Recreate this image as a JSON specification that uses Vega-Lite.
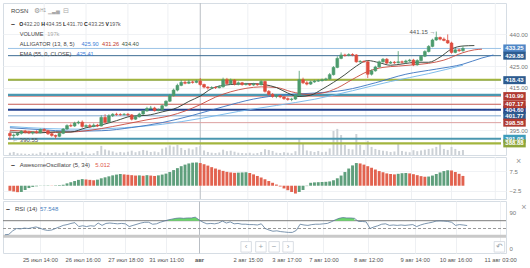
{
  "$schema": "https://vega.github.io/schema/vega-lite/v6.json",
  "padding": {"left": 1, "top": 2, "right": 0, "bottom": 0},
  "background": "white",
  "spacing": 2,
  "bounds": "flush",
  "config": {
    "view": {"stroke": "#d6dde4"},
    "axis": {"labelFont": "Liberation Sans", "labelFontSize": 6, "labelColor": "#777", "domain": false, "ticks": false},
    "text": {"font": "Liberation Sans"}
  },
  "datasets": {
    "ticks": [{"t":9},{"t":20},{"t":31},{"t":41.5},{"t":50},{"t":62.5},{"t":72.5},{"t":82},{"t":93.5},{"t":105.5},{"t":116},{"t":127.5}],
    "candles": [
      {"i":0,"o":393.5,"h":394.5,"l":390.55,"c":392.5,"v":90,"ao":-2.6,"aoUp":false,"rsi":34},
      {"i":1,"o":392.5,"h":393.5,"l":391.2,"c":392.8,"v":120,"ao":-3.0,"aoUp":false,"rsi":35},
      {"i":2,"o":392.8,"h":394.0,"l":392.3,"c":393.6,"v":70,"ao":-3.3,"aoUp":false,"rsi":44},
      {"i":3,"o":393.6,"h":395.0,"l":393.0,"c":394.6,"v":60,"ao":-3.2,"aoUp":true,"rsi":50},
      {"i":4,"o":394.6,"h":395.2,"l":393.5,"c":394.0,"v":50,"ao":-2.2,"aoUp":true,"rsi":49},
      {"i":5,"o":394.0,"h":394.8,"l":393.2,"c":393.8,"v":40,"ao":-1.2,"aoUp":true,"rsi":51},
      {"i":6,"o":393.8,"h":394.5,"l":393.0,"c":394.2,"v":60,"ao":-0.6,"aoUp":true,"rsi":50},
      {"i":7,"o":394.2,"h":395.0,"l":393.5,"c":393.9,"v":50,"ao":-0.3,"aoUp":true,"rsi":52},
      {"i":8,"o":393.9,"h":395.8,"l":393.6,"c":395.4,"v":110,"ao":-0.1,"aoUp":true,"rsi":54},
      {"i":9,"o":395.4,"h":396.0,"l":394.5,"c":394.8,"v":70,"ao":0.1,"aoUp":true,"rsi":51},
      {"i":10,"o":394.8,"h":395.2,"l":392.8,"c":393.4,"v":90,"ao":0.15,"aoUp":true,"rsi":47},
      {"i":11,"o":393.4,"h":393.8,"l":392.0,"c":392.6,"v":80,"ao":0.1,"aoUp":false,"rsi":45},
      {"i":12,"o":392.6,"h":393.0,"l":391.0,"c":392.2,"v":100,"ao":0.2,"aoUp":true,"rsi":46},
      {"i":13,"o":392.2,"h":394.0,"l":391.8,"c":393.6,"v":70,"ao":0.3,"aoUp":true,"rsi":50},
      {"i":14,"o":393.6,"h":396.0,"l":393.2,"c":395.6,"v":90,"ao":0.5,"aoUp":true,"rsi":54},
      {"i":15,"o":395.6,"h":397.8,"l":395.2,"c":397.2,"v":130,"ao":1.2,"aoUp":true,"rsi":58},
      {"i":16,"o":397.2,"h":398.2,"l":396.5,"c":397.0,"v":80,"ao":1.8,"aoUp":true,"rsi":60},
      {"i":17,"o":397.0,"h":399.0,"l":396.6,"c":398.4,"v":110,"ao":2.4,"aoUp":true,"rsi":63},
      {"i":18,"o":398.4,"h":399.5,"l":397.8,"c":398.8,"v":90,"ao":3.0,"aoUp":true,"rsi":65},
      {"i":19,"o":398.8,"h":399.6,"l":396.2,"c":396.8,"v":140,"ao":3.4,"aoUp":true,"rsi":55},
      {"i":20,"o":396.8,"h":397.8,"l":396.2,"c":397.2,"v":60,"ao":3.2,"aoUp":false,"rsi":57},
      {"i":21,"o":397.2,"h":398.0,"l":396.0,"c":396.8,"v":50,"ao":3.0,"aoUp":false,"rsi":55},
      {"i":22,"o":396.8,"h":398.2,"l":396.4,"c":397.4,"v":70,"ao":2.8,"aoUp":false,"rsi":57},
      {"i":23,"o":397.4,"h":398.0,"l":396.5,"c":397.0,"v":160,"ao":3.1,"aoUp":true,"rsi":56},
      {"i":24,"o":397.0,"h":402.0,"l":396.8,"c":401.0,"v":360,"ao":3.8,"aoUp":true,"rsi":64},
      {"i":25,"o":401.0,"h":402.5,"l":398.2,"c":398.8,"v":220,"ao":4.3,"aoUp":true,"rsi":58},
      {"i":26,"o":398.8,"h":402.5,"l":398.5,"c":401.8,"v":180,"ao":4.8,"aoUp":true,"rsi":63},
      {"i":27,"o":401.8,"h":403.0,"l":401.2,"c":402.5,"v":140,"ao":5.3,"aoUp":true,"rsi":64},
      {"i":28,"o":402.5,"h":403.2,"l":401.8,"c":402.4,"v":90,"ao":5.7,"aoUp":true,"rsi":63},
      {"i":29,"o":402.4,"h":403.0,"l":401.8,"c":402.3,"v":120,"ao":6.0,"aoUp":true,"rsi":62},
      {"i":30,"o":402.3,"h":403.0,"l":402.0,"c":402.5,"v":100,"ao":5.8,"aoUp":false,"rsi":63},
      {"i":31,"o":402.5,"h":403.1,"l":401.6,"c":402.2,"v":130,"ao":5.6,"aoUp":false,"rsi":62},
      {"i":32,"o":402.2,"h":402.6,"l":399.6,"c":400.2,"v":170,"ao":5.4,"aoUp":false,"rsi":55},
      {"i":33,"o":400.2,"h":401.8,"l":399.9,"c":401.3,"v":110,"ao":5.2,"aoUp":false,"rsi":58},
      {"i":34,"o":401.3,"h":403.2,"l":401.0,"c":402.6,"v":150,"ao":5.3,"aoUp":true,"rsi":61},
      {"i":35,"o":402.6,"h":404.5,"l":402.2,"c":404.0,"v":200,"ao":5.1,"aoUp":false,"rsi":64},
      {"i":36,"o":404.0,"h":406.0,"l":403.8,"c":405.2,"v":170,"ao":5.4,"aoUp":true,"rsi":66},
      {"i":37,"o":405.2,"h":406.4,"l":404.8,"c":405.4,"v":120,"ao":5.2,"aoUp":false,"rsi":66},
      {"i":38,"o":405.4,"h":406.0,"l":403.8,"c":404.2,"v":140,"ao":5.0,"aoUp":false,"rsi":61},
      {"i":39,"o":404.2,"h":405.2,"l":403.9,"c":404.6,"v":110,"ao":5.3,"aoUp":true,"rsi":62},
      {"i":40,"o":404.6,"h":407.0,"l":404.2,"c":406.5,"v":250,"ao":5.7,"aoUp":true,"rsi":66},
      {"i":41,"o":406.5,"h":409.0,"l":406.0,"c":408.6,"v":300,"ao":6.2,"aoUp":true,"rsi":69},
      {"i":42,"o":408.6,"h":412.0,"l":408.2,"c":411.2,"v":380,"ao":7.0,"aoUp":true,"rsi":72},
      {"i":43,"o":411.2,"h":414.5,"l":410.8,"c":413.8,"v":330,"ao":8.0,"aoUp":true,"rsi":74},
      {"i":44,"o":413.8,"h":416.8,"l":413.2,"c":416.0,"v":400,"ao":9.0,"aoUp":true,"rsi":76},
      {"i":45,"o":416.0,"h":418.5,"l":415.6,"c":417.4,"v":280,"ao":10.0,"aoUp":true,"rsi":77},
      {"i":46,"o":417.4,"h":418.3,"l":416.5,"c":417.0,"v":200,"ao":10.8,"aoUp":true,"rsi":76},
      {"i":47,"o":417.0,"h":418.6,"l":416.6,"c":417.6,"v":260,"ao":11.4,"aoUp":true,"rsi":77},
      {"i":48,"o":417.6,"h":418.2,"l":416.8,"c":417.4,"v":220,"ao":11.8,"aoUp":true,"rsi":77},
      {"i":49,"o":417.4,"h":418.6,"l":417.0,"c":418.0,"v":310,"ao":11.9,"aoUp":true,"rsi":79},
      {"i":50,"o":418.0,"h":419.4,"l":415.8,"c":416.4,"v":350,"ao":11.6,"aoUp":false,"rsi":72},
      {"i":51,"o":416.4,"h":416.8,"l":414.6,"c":415.2,"v":180,"ao":11.0,"aoUp":false,"rsi":66},
      {"i":52,"o":415.2,"h":415.6,"l":414.0,"c":414.8,"v":120,"ao":10.3,"aoUp":false,"rsi":62},
      {"i":53,"o":414.8,"h":415.6,"l":414.2,"c":415.0,"v":90,"ao":9.5,"aoUp":false,"rsi":63},
      {"i":54,"o":415.0,"h":415.5,"l":414.3,"c":414.9,"v":80,"ao":8.8,"aoUp":false,"rsi":62},
      {"i":55,"o":414.9,"h":416.0,"l":414.6,"c":415.3,"v":100,"ao":8.2,"aoUp":false,"rsi":64},
      {"i":56,"o":415.3,"h":419.6,"l":415.0,"c":418.6,"v":210,"ao":7.6,"aoUp":false,"rsi":69},
      {"i":57,"o":418.6,"h":419.5,"l":416.2,"c":416.8,"v":150,"ao":7.1,"aoUp":false,"rsi":64},
      {"i":58,"o":416.8,"h":419.2,"l":416.4,"c":418.4,"v":170,"ao":6.8,"aoUp":false,"rsi":67},
      {"i":59,"o":418.4,"h":418.9,"l":416.0,"c":416.6,"v":130,"ao":6.6,"aoUp":false,"rsi":62},
      {"i":60,"o":416.6,"h":417.8,"l":416.0,"c":417.2,"v":90,"ao":6.7,"aoUp":true,"rsi":63},
      {"i":61,"o":417.2,"h":417.6,"l":415.8,"c":416.4,"v":80,"ao":6.8,"aoUp":true,"rsi":61},
      {"i":62,"o":416.4,"h":417.2,"l":415.9,"c":416.6,"v":70,"ao":6.9,"aoUp":true,"rsi":61},
      {"i":63,"o":416.6,"h":417.0,"l":415.7,"c":416.2,"v":90,"ao":6.5,"aoUp":false,"rsi":60},
      {"i":64,"o":416.2,"h":417.2,"l":415.8,"c":416.6,"v":60,"ao":5.8,"aoUp":false,"rsi":60},
      {"i":65,"o":416.6,"h":417.0,"l":415.8,"c":416.3,"v":80,"ao":5.0,"aoUp":false,"rsi":59},
      {"i":66,"o":416.3,"h":418.4,"l":416.0,"c":417.8,"v":120,"ao":4.2,"aoUp":false,"rsi":62},
      {"i":67,"o":417.8,"h":418.2,"l":412.6,"c":413.2,"v":230,"ao":3.3,"aoUp":false,"rsi":50},
      {"i":68,"o":413.2,"h":413.8,"l":411.2,"c":411.8,"v":200,"ao":2.4,"aoUp":false,"rsi":46},
      {"i":69,"o":411.8,"h":412.4,"l":410.2,"c":410.8,"v":160,"ao":1.5,"aoUp":false,"rsi":43},
      {"i":70,"o":410.8,"h":411.8,"l":410.0,"c":411.2,"v":90,"ao":0.6,"aoUp":false,"rsi":44},
      {"i":71,"o":411.2,"h":411.6,"l":410.0,"c":410.6,"v":80,"ao":-0.4,"aoUp":false,"rsi":42},
      {"i":72,"o":410.6,"h":411.0,"l":409.2,"c":409.8,"v":110,"ao":-1.4,"aoUp":false,"rsi":41},
      {"i":73,"o":409.8,"h":410.4,"l":408.8,"c":409.4,"v":90,"ao":-2.3,"aoUp":false,"rsi":40},
      {"i":74,"o":409.4,"h":410.2,"l":408.6,"c":409.6,"v":70,"ao":-3.2,"aoUp":false,"rsi":40},
      {"i":75,"o":409.6,"h":412.0,"l":409.2,"c":411.4,"v":150,"ao":-4.0,"aoUp":false,"rsi":45},
      {"i":76,"o":411.4,"h":422.8,"l":411.0,"c":418.6,"v":640,"ao":-3.2,"aoUp":true,"rsi":61},
      {"i":77,"o":418.6,"h":419.6,"l":416.6,"c":417.2,"v":470,"ao":-2.2,"aoUp":true,"rsi":59},
      {"i":78,"o":417.2,"h":418.0,"l":416.0,"c":416.6,"v":180,"ao":-0.2,"aoUp":true,"rsi":58},
      {"i":79,"o":416.6,"h":418.2,"l":416.2,"c":417.6,"v":150,"ao":1.5,"aoUp":true,"rsi":60},
      {"i":80,"o":417.6,"h":418.6,"l":417.2,"c":418.0,"v":120,"ao":1.7,"aoUp":true,"rsi":61},
      {"i":81,"o":418.0,"h":418.8,"l":417.6,"c":418.2,"v":160,"ao":1.8,"aoUp":true,"rsi":61},
      {"i":82,"o":418.2,"h":419.2,"l":417.8,"c":418.6,"v":110,"ao":1.9,"aoUp":true,"rsi":62},
      {"i":83,"o":418.6,"h":419.6,"l":418.2,"c":419.0,"v":130,"ao":2.0,"aoUp":true,"rsi":63},
      {"i":84,"o":419.0,"h":421.8,"l":418.6,"c":421.0,"v":260,"ao":2.2,"aoUp":true,"rsi":67},
      {"i":85,"o":421.0,"h":425.0,"l":420.6,"c":424.4,"v":950,"ao":2.8,"aoUp":true,"rsi":72},
      {"i":86,"o":424.4,"h":429.6,"l":424.0,"c":428.6,"v":1030,"ao":3.8,"aoUp":true,"rsi":76},
      {"i":87,"o":428.6,"h":431.4,"l":428.2,"c":430.2,"v":790,"ao":5.2,"aoUp":true,"rsi":78},
      {"i":88,"o":430.2,"h":430.8,"l":429.4,"c":430.0,"v":400,"ao":7.0,"aoUp":true,"rsi":77},
      {"i":89,"o":430.0,"h":431.0,"l":429.6,"c":430.4,"v":240,"ao":8.8,"aoUp":true,"rsi":77},
      {"i":90,"o":430.4,"h":431.0,"l":429.6,"c":430.2,"v":220,"ao":10.4,"aoUp":true,"rsi":76},
      {"i":91,"o":430.2,"h":430.6,"l":426.6,"c":427.0,"v":830,"ao":11.6,"aoUp":true,"rsi":68},
      {"i":92,"o":427.0,"h":427.8,"l":426.6,"c":427.2,"v":400,"ao":11.4,"aoUp":false,"rsi":68},
      {"i":93,"o":427.2,"h":427.6,"l":426.6,"c":427.0,"v":200,"ao":10.8,"aoUp":false,"rsi":67},
      {"i":94,"o":427.0,"h":427.6,"l":419.4,"c":421.2,"v":560,"ao":10.0,"aoUp":false,"rsi":50},
      {"i":95,"o":421.2,"h":423.4,"l":420.6,"c":422.8,"v":320,"ao":9.2,"aoUp":false,"rsi":54},
      {"i":96,"o":422.8,"h":425.2,"l":422.4,"c":424.6,"v":240,"ao":8.3,"aoUp":false,"rsi":57},
      {"i":97,"o":424.6,"h":427.6,"l":424.2,"c":427.0,"v":200,"ao":7.5,"aoUp":false,"rsi":61},
      {"i":98,"o":427.0,"h":428.8,"l":426.6,"c":428.2,"v":170,"ao":6.9,"aoUp":false,"rsi":62},
      {"i":99,"o":428.2,"h":428.8,"l":426.0,"c":426.4,"v":150,"ao":6.3,"aoUp":false,"rsi":58},
      {"i":100,"o":426.4,"h":427.4,"l":426.0,"c":426.8,"v":120,"ao":6.0,"aoUp":false,"rsi":59},
      {"i":101,"o":426.8,"h":427.4,"l":426.0,"c":426.6,"v":140,"ao":5.8,"aoUp":false,"rsi":58},
      {"i":102,"o":426.6,"h":432.0,"l":426.2,"c":427.0,"v":430,"ao":6.1,"aoUp":true,"rsi":59},
      {"i":103,"o":427.0,"h":427.6,"l":426.2,"c":426.8,"v":160,"ao":6.4,"aoUp":true,"rsi":58},
      {"i":104,"o":426.8,"h":428.0,"l":426.4,"c":427.4,"v":130,"ao":6.5,"aoUp":true,"rsi":59},
      {"i":105,"o":427.4,"h":428.4,"l":427.0,"c":427.8,"v":110,"ao":6.3,"aoUp":false,"rsi":60},
      {"i":106,"o":427.8,"h":428.4,"l":425.0,"c":425.6,"v":190,"ao":5.9,"aoUp":false,"rsi":55},
      {"i":107,"o":425.6,"h":428.2,"l":425.2,"c":427.6,"v":150,"ao":5.4,"aoUp":false,"rsi":59},
      {"i":108,"o":427.6,"h":430.2,"l":427.2,"c":429.6,"v":180,"ao":4.9,"aoUp":false,"rsi":62},
      {"i":109,"o":429.6,"h":432.4,"l":429.2,"c":431.8,"v":210,"ao":4.6,"aoUp":false,"rsi":64},
      {"i":110,"o":431.8,"h":434.8,"l":431.4,"c":434.2,"v":240,"ao":4.7,"aoUp":true,"rsi":66},
      {"i":111,"o":434.2,"h":437.8,"l":433.8,"c":437.2,"v":260,"ao":5.2,"aoUp":true,"rsi":69},
      {"i":112,"o":437.2,"h":441.15,"l":436.8,"c":438.4,"v":320,"ao":6.0,"aoUp":true,"rsi":69.5},
      {"i":113,"o":438.4,"h":438.8,"l":437.0,"c":437.6,"v":430,"ao":6.8,"aoUp":true,"rsi":69},
      {"i":114,"o":437.6,"h":438.4,"l":436.6,"c":437.0,"v":240,"ao":7.5,"aoUp":true,"rsi":68},
      {"i":115,"o":437.0,"h":439.8,"l":435.4,"c":435.8,"v":200,"ao":7.9,"aoUp":true,"rsi":66},
      {"i":116,"o":435.8,"h":436.4,"l":430.8,"c":431.4,"v":320,"ao":7.8,"aoUp":false,"rsi":58},
      {"i":117,"o":431.4,"h":433.4,"l":431.0,"c":432.6,"v":240,"ao":7.0,"aoUp":false,"rsi":60},
      {"i":118,"o":432.6,"h":433.2,"l":431.6,"c":432.2,"v":160,"ao":6.1,"aoUp":false,"rsi":59},
      {"i":119,"o":432.2,"h":434.35,"l":431.7,"c":433.25,"v":197,"ao":5.012,"aoUp":false,"rsi":57.548}
    ],
    "levels": [
      {"p":404.6,"line":"navy","tag":"navy","label":"404.60"},
      {"p":407.17,"line":"red","tag":"red","label":"407.17"},
      {"p":433.25,"line":"current","tag":"current","label":"433.25"},
      {"p":429.88,"line":"steel","tag":"blue","label":"429.88"},
      {"p":418.43,"line":"blue","tag":"blue","label":"418.43"},
      {"p":418.62,"line":"olive","tag":null,"label":null},
      {"p":411.6,"line":"teal","tag":null,"label":null},
      {"p":410.99,"line":"red","tag":"red","label":"410.99"},
      {"p":401.77,"line":"blue","tag":"blue","label":"401.77"},
      {"p":398.58,"line":"pink","tag":"red","label":"398.58"},
      {"p":391.05,"line":"teal","tag":"teal","label":"391.05"},
      {"p":388.88,"line":"olive","tag":"olive","label":"388.88"}
    ],
    "ind": [
      {"name":"ema","i":0,"val":396.8},{"name":"ema","i":10,"val":395.8},{"name":"ema","i":20,"val":395.5},{"name":"ema","i":30,"val":396.2},{"name":"ema","i":40,"val":397.8},{"name":"ema","i":50,"val":400.5},{"name":"ema","i":60,"val":403.8},{"name":"ema","i":70,"val":406.6},{"name":"ema","i":80,"val":409.5},{"name":"ema","i":90,"val":413.5},{"name":"ema","i":100,"val":417.8},{"name":"ema","i":110,"val":421.5},{"name":"ema","i":119,"val":425.41},
      {"name":"jaw","i":0,"val":396.2},{"name":"jaw","i":8,"val":395.3},{"name":"jaw","i":16,"val":394.6},{"name":"jaw","i":24,"val":394.8},{"name":"jaw","i":32,"val":396.3},{"name":"jaw","i":40,"val":398.6},{"name":"jaw","i":48,"val":402.0},{"name":"jaw","i":56,"val":406.0},{"name":"jaw","i":64,"val":409.6},{"name":"jaw","i":72,"val":411.6},{"name":"jaw","i":80,"val":412.4},{"name":"jaw","i":88,"val":413.8},{"name":"jaw","i":96,"val":417.2},{"name":"jaw","i":104,"val":421.2},{"name":"jaw","i":112,"val":423.6},{"name":"jaw","i":119,"val":425.9},{"name":"jaw","i":124,"val":428.8},{"name":"jaw","i":127,"val":430.2},
      {"name":"teeth","i":0,"val":395.0},{"name":"teeth","i":6,"val":394.4},{"name":"teeth","i":12,"val":394.0},{"name":"teeth","i":18,"val":394.4},{"name":"teeth","i":24,"val":395.8},{"name":"teeth","i":30,"val":397.8},{"name":"teeth","i":36,"val":399.9},{"name":"teeth","i":42,"val":401.8},{"name":"teeth","i":46,"val":404.0},{"name":"teeth","i":50,"val":407.0},{"name":"teeth","i":54,"val":410.5},{"name":"teeth","i":58,"val":413.0},{"name":"teeth","i":62,"val":414.6},{"name":"teeth","i":66,"val":415.3},{"name":"teeth","i":70,"val":415.0},{"name":"teeth","i":74,"val":413.0},{"name":"teeth","i":78,"val":411.8},{"name":"teeth","i":82,"val":412.4},{"name":"teeth","i":86,"val":414.8},{"name":"teeth","i":90,"val":418.8},{"name":"teeth","i":94,"val":422.5},{"name":"teeth","i":98,"val":424.4},{"name":"teeth","i":102,"val":425.0},{"name":"teeth","i":106,"val":425.6},{"name":"teeth","i":110,"val":426.3},{"name":"teeth","i":114,"val":427.8},{"name":"teeth","i":119,"val":431.26},{"name":"teeth","i":122,"val":432.6},{"name":"teeth","i":124,"val":432.9},
      {"name":"lips","i":0,"val":394.2},{"name":"lips","i":4,"val":393.9},{"name":"lips","i":8,"val":393.8},{"name":"lips","i":12,"val":394.3},{"name":"lips","i":16,"val":394.2},{"name":"lips","i":20,"val":396.2},{"name":"lips","i":24,"val":397.5},{"name":"lips","i":28,"val":399.5},{"name":"lips","i":32,"val":401.6},{"name":"lips","i":36,"val":402.0},{"name":"lips","i":40,"val":403.6},{"name":"lips","i":44,"val":405.6},{"name":"lips","i":47,"val":408.5},{"name":"lips","i":50,"val":411.0},{"name":"lips","i":53,"val":414.5},{"name":"lips","i":56,"val":416.0},{"name":"lips","i":60,"val":416.6},{"name":"lips","i":64,"val":416.8},{"name":"lips","i":67,"val":416.3},{"name":"lips","i":70,"val":415.0},{"name":"lips","i":73,"val":412.4},{"name":"lips","i":76,"val":410.8},{"name":"lips","i":79,"val":411.4},{"name":"lips","i":82,"val":414.2},{"name":"lips","i":85,"val":417.4},{"name":"lips","i":88,"val":421.0},{"name":"lips","i":91,"val":425.0},{"name":"lips","i":94,"val":427.6},{"name":"lips","i":97,"val":426.6},{"name":"lips","i":100,"val":425.4},{"name":"lips","i":103,"val":426.0},{"name":"lips","i":107,"val":426.8},{"name":"lips","i":110,"val":426.8},{"name":"lips","i":113,"val":429.2},{"name":"lips","i":116,"val":433.0},{"name":"lips","i":119,"val":434.4},{"name":"lips","i":122,"val":434.6}
    ]
  },
  "vconcat": [
    {
      "width": 503,
      "height": 152,
      "data": {"name": "candles"},
      "resolve": {"scale": {"y": "independent"}},
      "layer": [
        {
          "data": {"name": "ticks"},
          "mark": {"type": "rule", "strokeWidth": 1},
          "encoding": {
            "x": {"field": "t", "type": "quantitative", "scale": {"domain": [-0.5, 129], "nice": false, "zero": false}, "axis": null},
            "color": {"condition": {"test": "datum.t == 50", "value": "#b9bec4"}, "value": "#eef0f3"}
          }
        },
        {
          "mark": {"type": "bar", "size": 2, "color": "#ccd1d6"},
          "encoding": {
            "x": {"field": "i", "type": "quantitative", "scale": {"domain": [-0.5, 129], "nice": false, "zero": false}, "axis": null},
            "y": {"field": "v", "type": "quantitative", "scale": {"domain": [0, 6000], "nice": false}, "axis": null},
            "y2": {"datum": 0}
          }
        },
        {
          "resolve": {"scale": {"color": "independent"}},
          "layer": [
            {
              "data": {"name": "levels"},
              "transform": [{"filter": "indexof(['navy','teal','olive'], datum.line) < 0"}],
              "mark": {"type": "rule", "strokeWidth": 1},
              "encoding": {
                "x": {"datum": -0.5, "axis": null},
                "x2": {"datum": 129},
                "y": {"field": "p", "type": "quantitative", "scale": {"domain": [383.46, 454.49], "nice": false, "zero": false},
                  "axis": {"orient": "right", "values": [440, 425, 415, 395], "format": ".2f", "title": null, "grid": true, "gridColor": "#f0f2f5", "labelPadding": 3}},
                "color": {"field": "line", "type": "nominal", "legend": null,
                  "scale": {"domain": ["current","steel","blue","red","pink","navy","teal","olive"], "range": ["#9cc3e6","#3d6d93","#7ea6cf","#c65a52","#dca0a0","#22418f","#4b97b0","#a3b53e"]}}
              }
            },
            {
              "data": {"name": "levels"},
              "transform": [{"filter": "indexof(['navy','teal','olive'], datum.line) >= 0"}],
              "mark": {"type": "rule", "strokeWidth": 2.2},
              "encoding": {
                "x": {"datum": -0.5, "axis": null},
                "x2": {"datum": 129},
                "y": {"field": "p", "type": "quantitative", "scale": {"domain": [383.46, 454.49], "nice": false, "zero": false},
                  "axis": {"orient": "right", "values": [440, 425, 415, 395], "format": ".2f", "title": null, "grid": true, "gridColor": "#f0f2f5", "labelPadding": 3}},
                "color": {"field": "line", "type": "nominal", "legend": null,
                  "scale": {"domain": ["current","steel","blue","red","pink","navy","teal","olive"], "range": ["#9cc3e6","#3d6d93","#7ea6cf","#c65a52","#dca0a0","#22418f","#4b97b0","#a3b53e"]}}
              }
            },
            {
              "data": {"name": "ind"},
              "mark": {"type": "line", "interpolate": "monotone", "strokeWidth": 0.9},
              "encoding": {
                "x": {"field": "i", "type": "quantitative", "scale": {"domain": [-0.5, 129], "nice": false, "zero": false}, "axis": null},
                "y": {"field": "val", "type": "quantitative", "scale": {"domain": [383.46, 454.49], "nice": false, "zero": false},
                  "axis": {"orient": "right", "values": [440, 425, 415, 395], "format": ".2f", "title": null, "grid": true, "gridColor": "#f0f2f5", "labelPadding": 3}},
                "color": {"field": "name", "type": "nominal", "legend": null,
                  "scale": {"domain": ["ema","jaw","teeth","lips"], "range": ["#72b6ea","#3a74bf","#c8493d","#2e3a30"]}}
              }
            },
            {
              "mark": {"type": "rule", "strokeWidth": 0.8},
              "encoding": {
                "x": {"field": "i", "type": "quantitative", "scale": {"domain": [-0.5, 129], "nice": false, "zero": false}, "axis": null},
                "y": {"field": "l", "type": "quantitative", "scale": {"domain": [383.46, 454.49], "nice": false, "zero": false},
                  "axis": {"orient": "right", "values": [440, 425, 415, 395], "format": ".2f", "title": null, "grid": true, "gridColor": "#f0f2f5", "labelPadding": 3}},
                "y2": {"field": "h"},
                "color": {"condition": {"test": "datum.c >= datum.o", "value": "#4b9b6c"}, "value": "#de4b3d"}
              }
            },
            {
              "mark": {"type": "bar", "size": 2.8, "strokeWidth": 0.6},
              "encoding": {
                "x": {"field": "i", "type": "quantitative", "scale": {"domain": [-0.5, 129], "nice": false, "zero": false}, "axis": null},
                "y": {"field": "o", "type": "quantitative", "scale": {"domain": [383.46, 454.49], "nice": false, "zero": false},
                  "axis": {"orient": "right", "values": [440, 425, 415, 395], "format": ".2f", "title": null, "grid": true, "gridColor": "#f0f2f5", "labelPadding": 3}},
                "y2": {"field": "c"},
                "color": {"condition": {"test": "datum.c >= datum.o", "value": "#4b9b6c"}, "value": "#de4b3d"},
                "stroke": {"condition": {"test": "datum.c >= datum.o", "value": "#4b9b6c"}, "value": "#de4b3d"}
              }
            },
            {
              "data": {"values": [{}]},
              "mark": {"type": "text", "text": "441.15 →", "align": "right", "baseline": "middle", "fontSize": 6, "color": "#555"},
              "encoding": {"x": {"datum": 111.8}, "y": {"datum": 441.15}}
            },
            {
              "data": {"values": [{}]},
              "mark": {"type": "text", "text": "← 390.55", "align": "left", "baseline": "middle", "fontSize": 6, "color": "#555"},
              "encoding": {"x": {"datum": 0.6}, "y": {"datum": 390.55}}
            },
            {
              "data": {"name": "levels"},
              "transform": [{"filter": "datum.label"}],
              "mark": {"type": "rule", "strokeWidth": 8},
              "encoding": {
                "x": {"datum": 129.6},
                "x2": {"datum": 135.5},
                "y": {"field": "p", "type": "quantitative", "scale": {"domain": [383.46, 454.49], "nice": false, "zero": false},
                  "axis": {"orient": "right", "values": [440, 425, 415, 395], "format": ".2f", "title": null, "grid": true, "gridColor": "#f0f2f5", "labelPadding": 3}},
                "color": {"field": "tag", "type": "nominal", "legend": null,
                  "scale": {"domain": ["current","blue","navy","red","teal","olive"], "range": ["#4f86c6","#2d5b8f","#23418a","#b03a31","#3d9cbb","#8fa63b"]}}
              }
            },
            {
              "data": {"name": "levels"},
              "transform": [{"filter": "datum.label"}],
              "mark": {"type": "text", "align": "center", "baseline": "middle", "fontSize": 6, "fontWeight": "bold", "color": "white"},
              "encoding": {
                "x": {"datum": 132.55},
                "y": {"field": "p", "type": "quantitative", "scale": {"domain": [383.46, 454.49], "nice": false, "zero": false},
                  "axis": {"orient": "right", "values": [440, 425, 415, 395], "format": ".2f", "title": null, "grid": true, "gridColor": "#f0f2f5", "labelPadding": 3}},
                "text": {"field": "label"}
              }
            },
            {"data": {"values": [{}]}, "mark": {"type": "text", "text": "ROSN", "align": "left", "baseline": "middle", "fontSize": 6, "color": "#444"}, "encoding": {"x": {"datum": 0.27}, "y": {"datum": 450.75}}},
            {"data": {"values": [{}]}, "mark": {"type": "text", "text": "⚙", "align": "left", "baseline": "middle", "fontSize": 6.5, "color": "#999"}, "encoding": {"x": {"datum": 6.2}, "y": {"datum": 450.75}}},
            {"data": {"values": [{}]}, "mark": {"type": "text", "text": "H1", "align": "left", "baseline": "middle", "fontSize": 4.5, "color": "#999"}, "encoding": {"x": {"datum": 8.0}, "y": {"datum": 450.75}}},
            {"data": {"values": [{}]}, "mark": {"type": "text", "text": "▁▃▅", "align": "left", "baseline": "middle", "fontSize": 5, "color": "#aaa"}, "encoding": {"x": {"datum": 10.1}, "y": {"datum": 450.75}}},
            {"data": {"values": [{}]}, "mark": {"type": "text", "text": "⊟", "align": "left", "baseline": "middle", "fontSize": 6.5, "color": "#aaa"}, "encoding": {"x": {"datum": 13.9}, "y": {"datum": 450.75}}},
            {"data": {"values": [{}]}, "mark": {"type": "text", "text": "–", "align": "left", "baseline": "middle", "fontSize": 7, "fontWeight": "bold", "color": "#222"}, "encoding": {"x": {"datum": 0.27}, "y": {"datum": 444.82}}},
            {"data": {"values": [{}]}, "mark": {"type": "text", "text": "O", "align": "left", "baseline": "middle", "fontSize": 5.2, "fontWeight": "bold", "color": "#222"}, "encoding": {"x": {"datum": 2.46}, "y": {"datum": 444.82}}},
            {"data": {"values": [{}]}, "mark": {"type": "text", "text": "432.20", "align": "left", "baseline": "middle", "fontSize": 5.2, "color": "#555"}, "encoding": {"x": {"datum": 3.62}, "y": {"datum": 444.82}}},
            {"data": {"values": [{}]}, "mark": {"type": "text", "text": "H", "align": "left", "baseline": "middle", "fontSize": 5.2, "fontWeight": "bold", "color": "#222"}, "encoding": {"x": {"datum": 8.25}, "y": {"datum": 444.82}}},
            {"data": {"values": [{}]}, "mark": {"type": "text", "text": "434.35", "align": "left", "baseline": "middle", "fontSize": 5.2, "color": "#555"}, "encoding": {"x": {"datum": 9.41}, "y": {"datum": 444.82}}},
            {"data": {"values": [{}]}, "mark": {"type": "text", "text": "L", "align": "left", "baseline": "middle", "fontSize": 5.2, "fontWeight": "bold", "color": "#222"}, "encoding": {"x": {"datum": 13.92}, "y": {"datum": 444.82}}},
            {"data": {"values": [{}]}, "mark": {"type": "text", "text": "431.70", "align": "left", "baseline": "middle", "fontSize": 5.2, "color": "#555"}, "encoding": {"x": {"datum": 14.95}, "y": {"datum": 444.82}}},
            {"data": {"values": [{}]}, "mark": {"type": "text", "text": "C", "align": "left", "baseline": "middle", "fontSize": 5.2, "fontWeight": "bold", "color": "#222"}, "encoding": {"x": {"datum": 19.45}, "y": {"datum": 444.82}}},
            {"data": {"values": [{}]}, "mark": {"type": "text", "text": "433.25", "align": "left", "baseline": "middle", "fontSize": 5.2, "color": "#555"}, "encoding": {"x": {"datum": 20.61}, "y": {"datum": 444.82}}},
            {"data": {"values": [{}]}, "mark": {"type": "text", "text": "V", "align": "left", "baseline": "middle", "fontSize": 5.2, "fontWeight": "bold", "color": "#222"}, "encoding": {"x": {"datum": 25.12}, "y": {"datum": 444.82}}},
            {"data": {"values": [{}]}, "mark": {"type": "text", "text": "197k", "align": "left", "baseline": "middle", "fontSize": 5.2, "color": "#555"}, "encoding": {"x": {"datum": 26.15}, "y": {"datum": 444.82}}},
            {"data": {"values": [{}]}, "mark": {"type": "text", "text": "VOLUME", "align": "left", "baseline": "middle", "fontSize": 5.6, "color": "#444"}, "encoding": {"x": {"datum": 2.59}, "y": {"datum": 440.14}}},
            {"data": {"values": [{}]}, "mark": {"type": "text", "text": "197k", "align": "left", "baseline": "middle", "fontSize": 5.6, "color": "#aaa"}, "encoding": {"x": {"datum": 9.8}, "y": {"datum": 440.14}}},
            {"data": {"values": [{}]}, "mark": {"type": "text", "text": "ALLIGATOR (13, 8, 5)", "align": "left", "baseline": "middle", "fontSize": 5.6, "color": "#444"}, "encoding": {"x": {"datum": 2.59}, "y": {"datum": 435.47}}},
            {"data": {"values": [{}]}, "mark": {"type": "text", "text": "425.90", "align": "left", "baseline": "middle", "fontSize": 5.6, "color": "#3b7dd8"}, "encoding": {"x": {"datum": 18.81}, "y": {"datum": 435.47}}},
            {"data": {"values": [{}]}, "mark": {"type": "text", "text": "431.26", "align": "left", "baseline": "middle", "fontSize": 5.6, "color": "#c0392b"}, "encoding": {"x": {"datum": 24.22}, "y": {"datum": 435.47}}},
            {"data": {"values": [{}]}, "mark": {"type": "text", "text": "434.40", "align": "left", "baseline": "middle", "fontSize": 5.6, "color": "#3d553d"}, "encoding": {"x": {"datum": 29.37}, "y": {"datum": 435.47}}},
            {"data": {"values": [{}]}, "mark": {"type": "text", "text": "EMA (55, 0, CLOSE)", "align": "left", "baseline": "middle", "fontSize": 5.6, "color": "#444"}, "encoding": {"x": {"datum": 2.59}, "y": {"datum": 430.8}}},
            {"data": {"values": [{}]}, "mark": {"type": "text", "text": "425.41", "align": "left", "baseline": "middle", "fontSize": 5.6, "color": "#3b7dd8"}, "encoding": {"x": {"datum": 17.52}, "y": {"datum": 430.8}}}
          ]
        }
      ]
    },
    {
      "width": 503,
      "height": 42,
      "data": {"name": "candles"},
      "layer": [
        {
          "data": {"name": "ticks"},
          "mark": {"type": "rule", "strokeWidth": 1},
          "encoding": {
            "x": {"field": "t", "type": "quantitative", "scale": {"domain": [-0.5, 129], "nice": false, "zero": false}, "axis": null},
            "color": {"condition": {"test": "datum.t == 50", "value": "#b9bec4"}, "value": "#eef0f3"}
          }
        },
        {
          "mark": {"type": "bar", "size": 2.9},
          "encoding": {
            "x": {"field": "i", "type": "quantitative", "scale": {"domain": [-0.5, 129], "nice": false, "zero": false}, "axis": null},
            "y": {"field": "ao", "type": "quantitative", "scale": {"domain": [-6.8, 14.7], "nice": false, "zero": false},
              "axis": {"orient": "right", "values": [7.5, 2.5, -2.5], "format": ".1f", "title": null, "grid": true, "gridColor": "#f0f2f5", "labelPadding": 3}},
            "y2": {"datum": 0},
            "color": {"condition": {"test": "datum.aoUp", "value": "#5f9f7c"}, "value": "#e2624f"}
          }
        },
        {"data": {"values": [{}]}, "mark": {"type": "text", "text": "–", "align": "left", "baseline": "middle", "fontSize": 7, "fontWeight": "bold", "color": "#222"}, "encoding": {"x": {"datum": 0.27}, "y": {"datum": 10.6}}},
        {"data": {"values": [{}]}, "mark": {"type": "text", "text": "AwesomeOscillator (5, 34)", "align": "left", "baseline": "middle", "fontSize": 6, "color": "#444"}, "encoding": {"x": {"datum": 2.59}, "y": {"datum": 10.6}}},
        {"data": {"values": [{}]}, "mark": {"type": "text", "text": "5.012", "align": "left", "baseline": "middle", "fontSize": 6, "color": "#e05a4a"}, "encoding": {"x": {"datum": 22.4}, "y": {"datum": 10.6}}},
        {"data": {"values": [{}]}, "mark": {"type": "text", "text": "×", "align": "center", "baseline": "middle", "fontSize": 9, "color": "#999"}, "encoding": {"x": {"datum": 133.6}, "y": {"datum": 12.6}}}
      ]
    },
    {
      "width": 503,
      "height": 52,
      "data": {"name": "candles"},
      "layer": [
        {"data": {"values": [{}]}, "mark": {"type": "rule", "color": "#c9c9c9", "strokeWidth": 3}, "encoding": {"x": {"datum": -0.5}, "x2": {"datum": 129}, "y": {"datum": 30}}},
        {"data": {"values": [{}]}, "mark": {"type": "rule", "color": "#9a9a9a", "strokeWidth": 1, "strokeDash": [3, 2]}, "encoding": {"x": {"datum": -0.5}, "x2": {"datum": 129}, "y": {"datum": 50}}},
        {"data": {"values": [{}]}, "mark": {"type": "rule", "color": "#7d7d7d", "strokeWidth": 1}, "encoding": {"x": {"datum": -0.5}, "x2": {"datum": 129}, "y": {"datum": 70}}},
        {
          "transform": [{"filter": "datum.rsi >= 70 && datum.i < 70"}],
          "mark": {"type": "area", "color": "#6ad66a"},
          "encoding": {"x": {"field": "i", "type": "quantitative"}, "y": {"field": "rsi", "type": "quantitative"}, "y2": {"datum": 70}}
        },
        {
          "transform": [{"filter": "datum.rsi >= 70 && datum.i >= 70 && datum.i < 100"}],
          "mark": {"type": "area", "color": "#6ad66a"},
          "encoding": {"x": {"field": "i", "type": "quantitative"}, "y": {"field": "rsi", "type": "quantitative"}, "y2": {"datum": 70}}
        },
        {
          "mark": {"type": "line", "color": "#5b7a99", "strokeWidth": 0.8},
          "encoding": {
            "x": {"field": "i", "type": "quantitative", "scale": {"domain": [-0.5, 129], "nice": false, "zero": false},
              "axis": {"values": [9,20,31,41.5,50,62.5,72.5,82,93.5,105.5,116,127.5], "grid": true, "title": null,
                "gridColor": {"condition": {"test": "datum.value == 50", "value": "#b9bec4"}, "value": "#eef0f3"},
                "labelExpr": "['25 июл 14:00','26 июл 16:00','27 июл 18:00','31 июл 11:00','авг','2 авг 15:00','3 авг 17:00','7 авг 10:00','8 авг 12:00','9 авг 14:00','10 авг 16:00','11 авг 03:00'][indexof([9,20,31,41.5,50,62.5,72.5,82,93.5,105.5,116,127.5], datum.value)]",
                "labelFontSize": 5.8, "labelColor": "#555", "labelPadding": 3, "labelOverlap": false, "labelBound": false, "labelFlush": false,
                "labelFontWeight": {"condition": {"test": "datum.value == 50", "value": "bold"}, "value": "normal"}}},
            "y": {"field": "rsi", "type": "quantitative", "scale": {"domain": [-12.8, 120.5], "nice": false, "zero": false},
              "axis": {"orient": "right", "values": [90, 60, 30, 0], "title": null, "grid": false, "labelPadding": 3}}
          }
        },
        {"data": {"values": [{}]}, "mark": {"type": "text", "text": "–", "align": "left", "baseline": "middle", "fontSize": 7, "fontWeight": "bold", "color": "#222"}, "encoding": {"x": {"datum": 0.27}, "y": {"datum": 100}}},
        {"data": {"values": [{}]}, "mark": {"type": "text", "text": "RSI (14)", "align": "left", "baseline": "middle", "fontSize": 6, "color": "#444"}, "encoding": {"x": {"datum": 2.59}, "y": {"datum": 100}}},
        {"data": {"values": [{}]}, "mark": {"type": "text", "text": "57.548", "align": "left", "baseline": "middle", "fontSize": 6, "color": "#4a7fc0"}, "encoding": {"x": {"datum": 9.0}, "y": {"datum": 100}}},
        {"data": {"values": [{}]}, "mark": {"type": "text", "text": "×", "align": "center", "baseline": "middle", "fontSize": 9, "color": "#999"}, "encoding": {"x": {"datum": 133.6}, "y": {"datum": 106}}},
        {"data": {"values": [{"g": "‹", "k": 62.1}, {"g": "+", "k": 65.9}, {"g": "−", "k": 69.3}, {"g": "›", "k": 72.9}, {"g": "↶", "k": 127.3}]},
          "mark": {"type": "point", "shape": "square", "size": 110, "filled": true, "fill": "white", "stroke": "#cfd6dd", "strokeWidth": 0.8, "opacity": 1},
          "encoding": {"x": {"field": "k", "type": "quantitative"}, "y": {"datum": 3}}},
        {"data": {"values": [{"g": "‹", "k": 62.1}, {"g": "+", "k": 65.9}, {"g": "−", "k": 69.3}, {"g": "›", "k": 72.9}, {"g": "↶", "k": 127.3}]},
          "mark": {"type": "text", "align": "center", "baseline": "middle", "fontSize": 8, "color": "#9aa3ab"},
          "encoding": {"x": {"field": "k", "type": "quantitative"}, "y": {"datum": 3}, "text": {"field": "g"}}}
      ]
    }
  ]
}
